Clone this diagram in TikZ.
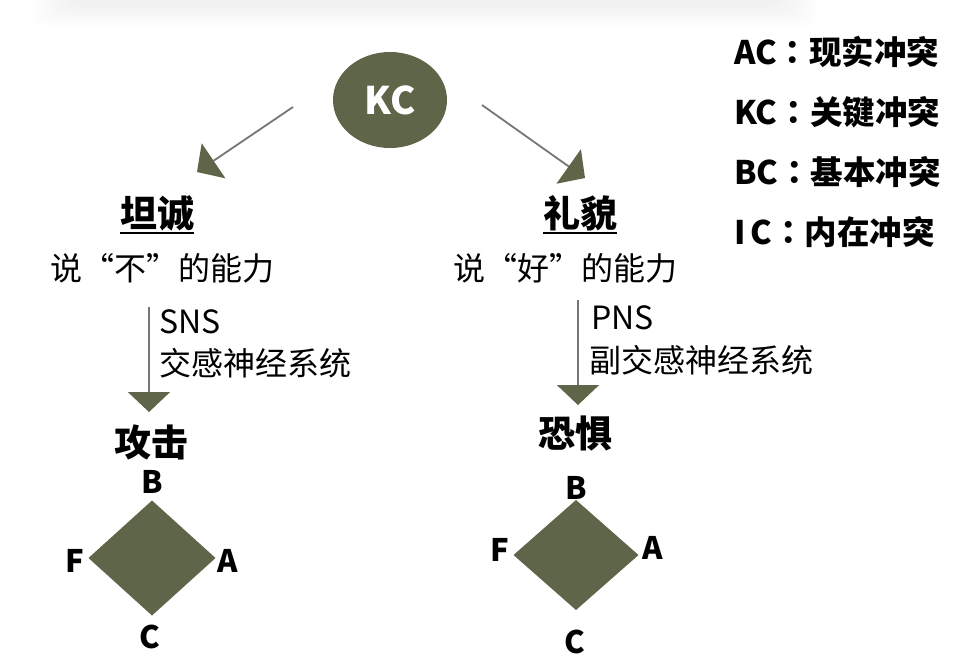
\documentclass[tikz,border=0pt]{standalone}
\usepackage{fontspec}
\setmainfont{Noto Sans CJK SC}
\newfontfamily\tcfont{Noto Sans CJK TC}
\usetikzlibrary{arrows.meta,shapes.geometric}
\definecolor{olv}{RGB}{95,101,72}
\definecolor{lgray}{RGB}{118,118,118}
\newcommand{\fwcolon}{{\tcfont：}}
\begin{document}
\begin{tikzpicture}[x=1pt,y=-1pt,
  every node/.style={inner sep=0pt, outer sep=0pt},
  conn/.style={draw=lgray, line width=1.8pt, -{Triangle[length=20pt,width=42pt,color=olv]}},
  kcbox/.style={ellipse, fill=olv, minimum width=114pt, minimum height=96pt, text=white, font=\bfseries\fontsize{38}{40}\selectfont},
  headtxt/.style={font=\bfseries\fontsize{37}{40}\selectfont},
  bodytxt/.style={font=\fontsize{32}{36}\selectfont},
  legtxt/.style={anchor=west, font=\bfseries\fontsize{32.5}{36}\selectfont},
  lettxt/.style={font=\bfseries\fontsize{31}{33}\selectfont},
  diam/.style={diamond, fill=olv, inner sep=0pt}
]
\useasboundingbox (0,0) rectangle (974,667);
\fill[white] (0,0) rectangle (974,667);
% faint top card edge shadow (soft, built from layered translucent bands)
\foreach \i in {0,...,13}{
  \fill[black, opacity=0.005, rounded corners=14pt] ({70-\i*3},-40) rectangle ({780+\i*3},{6+\i*1.6});
}

% KC
\node[kcbox] (kc) at (390,100) {KC};

% headings
\node[headtxt] (tc) at (157,213) {坦诚};
\node[headtxt] (lm) at (580,213) {礼貌};
\draw[line width=2.5pt] ([yshift=-2pt]tc.south west) -- ([yshift=-2pt]tc.south east);
\draw[line width=2.5pt] ([yshift=-2pt]lm.south west) -- ([yshift=-2pt]lm.south east);

\node[bodytxt] (no) at (162,268) {说“不”的能力};
\node[bodytxt] (yes) at (565,268) {说“好”的能力};

% KC arrows
\coordinate (l1) at (293,107);
\coordinate (l2) at (197,172);
\coordinate (r1) at (482,105);
\coordinate (r2) at (585,178);
\draw[conn] (l1) -- (l2);
\draw[conn] (r1) -- (r2);

% vertical arrows
\coordinate (v1a) at (149,307);
\coordinate (v1b) at (149,412);
\coordinate (v2a) at (578,300);
\coordinate (v2b) at (578,405);
\draw[conn] (v1a) -- (v1b);
\draw[conn] (v2a) -- (v2b);

\node[bodytxt, anchor=west] (sns) at (159,322) {SNS};
\node[bodytxt, anchor=west] (snsc) at (159,363) {交感神经系统};
\node[bodytxt, anchor=west] (pns) at (591,318) {PNS};
\node[bodytxt, anchor=west] (pnsc) at (589,360) {副交感神经系统};

\node[headtxt] (gj) at (151,442) {攻击};
\node[headtxt] (kj) at (575,433) {恐惧};

% diamonds
\node[diam, minimum width=127pt, minimum height=115pt] (d1) at (152,558) {};
\node[diam, minimum width=125pt, minimum height=110pt] (d2) at (576,555) {};

\node[lettxt] (d1b) at (152,482) {B};
\node[lettxt] (d1f) at (75,561) {F};
\node[lettxt] (d1a) at (228,561) {A};
\node[lettxt] (d1c) at (150,637) {C};

\node[lettxt] (d2b) at (576,488) {B};
\node[lettxt] (d2f) at (500,550) {F};
\node[lettxt] (d2a) at (653,548) {A};
\node[lettxt] (d2c) at (575,642) {C};

% legend
\node[legtxt] (lac) at (734,52) {AC\fwcolon 现实冲突};
\node[legtxt] (lkc) at (734,112) {KC\fwcolon 关键冲突};
\node[legtxt] (lbc) at (734,172) {BC\fwcolon 基本冲突};
\node[legtxt] (lic) at (734,232) {I\,C\fwcolon 内在冲突};
\end{tikzpicture}
\end{document}
